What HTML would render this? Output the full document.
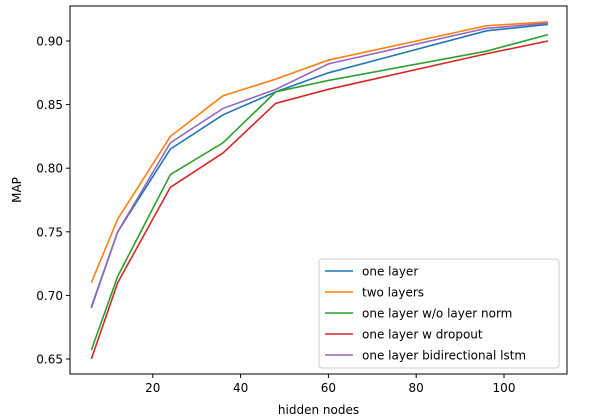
<!DOCTYPE html>
<html><head><meta charset="utf-8"><style>
body{margin:0;background:#fff;}
svg{display:block;font-family:"DejaVu Sans","Liberation Sans",sans-serif;}
</style></head><body>
<svg id="chart" width="614" height="420"></svg>
<script>
const categories=[6,12,24,36,48,60,96,110];
const seriesNames=["one layer","two layers","one layer w/o layer norm","one layer w dropout","one layer bidirectional lstm"];
const oneLayer=[0.691,0.750,0.815,0.842,0.860,0.875,0.908,0.913];
const twoLayers=[0.710,0.760,0.825,0.857,0.870,0.885,0.912,0.915];
const noNorm=[0.657,0.715,0.795,0.820,0.860,0.869,0.892,0.905];
const dropout=[0.650,0.710,0.785,0.812,0.851,0.862,0.890,0.900];
const bidir=[0.690,0.750,0.820,0.847,0.862,0.882,0.910,0.914];
const xTicks=[20,40,60,80,100];
const yTicks=[0.65,0.70,0.75,0.80,0.85,0.90];
const colors=["#1f77b4","#ff7f0e","#2ca02c","#d62728","#9467bd"];
const allSeries=[oneLayer,twoLayers,noNorm,dropout,bidir];
const NS="http://www.w3.org/2000/svg";
const svg=document.getElementById('chart');
const L=70,R=567,T=6,B=374;
const xs=v=>65+(v)*4.39;
const ys=v=>41+(0.90-v)/0.05*63.6;
function mk(tag,attrs,parent){const e=document.createElementNS(NS,tag);for(const k in attrs)e.setAttribute(k,attrs[k]);(parent||svg).appendChild(e);return e;}
const frame=mk('rect',{x:L,y:T,width:R-L,height:B-T,fill:'none',stroke:'#000','stroke-width':1});


xTicks.forEach(t=>{const x=xs(t);
const tk=mk('line',{x1:x,x2:x,y1:B,y2:B+4,stroke:'#000'});


const tx=mk('text',{x:x,y:B+18,'text-anchor':'middle','font-size':12});tx.textContent=t;

});
yTicks.forEach(t=>{const y=ys(t);
const tk=mk('line',{x1:L-4,x2:L,y1:y,y2:y,stroke:'#000'});


const tx=mk('text',{x:L-7,y:y+4.5,'text-anchor':'end','font-size':12});tx.textContent=t.toFixed(2);

});
const xt=mk('text',{x:(L+R)/2,y:414,'text-anchor':'middle','font-size':12});xt.textContent='hidden nodes';


const yt=mk('text',{x:21,y:(T+B)/2,'text-anchor':'middle','font-size':12,transform:`rotate(-90 21 ${(T+B)/2})`});yt.textContent='MAP';


allSeries.forEach((s,i)=>{const p=mk('polyline',{points:s.map((v,j)=>xs(categories[j])+','+ys(v)).join(' '),fill:'none',stroke:colors[i],'stroke-width':1.6});

});
const lg=mk('rect',{x:319,y:259,width:240,height:109,fill:'#fff','fill-opacity':0.8,stroke:'#ccc',rx:3});


seriesNames.forEach((n,i)=>{const y=271+i*21;
const l=mk('line',{x1:325,x2:353,y1:y,y2:y,stroke:colors[i],'stroke-width':1.6});


const t=mk('text',{x:362,y:y+4.5,'font-size':12});t.textContent=n;

});
</script>
</body></html>
